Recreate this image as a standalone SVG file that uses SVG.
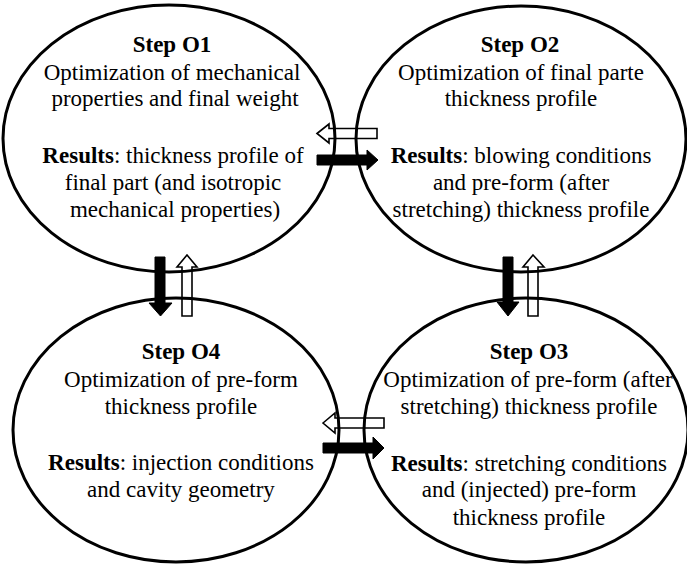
<svg xmlns="http://www.w3.org/2000/svg" width="687" height="564" viewBox="0 0 687 564">
<style>
.el{fill:none;stroke:#000;stroke-width:3}
text{font-family:"Liberation Serif","Times New Roman",serif;font-size:23px;fill:#000;text-anchor:middle}
.b{font-weight:bold}
.solid{fill:#000;stroke:#000;stroke-width:1}
.hollow{fill:none;stroke:#000;stroke-width:1.6;stroke-linejoin:miter}
</style>
<rect width="687" height="564" fill="#fff"/>
<g id="node-O1">
<ellipse class="el" cx="169" cy="138.5" rx="166" ry="133.5"/>
<text x="172" y="52" class="b">Step O1</text>
<text x="172" y="80">Optimization of mechanical</text>
<text x="175" y="106">properties and final weight</text>
<text x="173" y="163"><tspan class="b">Results</tspan>: thickness profile of</text>
<text x="173" y="190">final part (and isotropic</text>
<text x="175" y="217">mechanical properties)</text>
</g>
<g id="node-O2">
<ellipse class="el" cx="521" cy="139" rx="165" ry="133"/>
<text x="520" y="52" class="b">Step O2</text>
<text x="521" y="80">Optimization of final parte</text>
<text x="521" y="106">thickness profile</text>
<text x="521" y="163"><tspan class="b">Results</tspan>: blowing conditions</text>
<text x="521" y="190">and pre-form (after</text>
<text x="521" y="217">stretching) thickness profile</text>
</g>
<g id="node-O4">
<ellipse class="el" cx="176" cy="430" rx="163" ry="132"/>
<text x="181" y="359" class="b">Step O4</text>
<text x="181" y="387">Optimization of pre-form</text>
<text x="181" y="414">thickness profile</text>
<text x="181" y="470"><tspan class="b">Results</tspan>: injection conditions</text>
<text x="181" y="497">and cavity geometry</text>
</g>
<g id="node-O3">
<ellipse class="el" cx="526" cy="430" rx="162" ry="132"/>
<text x="529" y="359" class="b">Step O3</text>
<text x="528" y="387">Optimization of pre-form (after</text>
<text x="529" y="414">stretching) thickness profile</text>
<text x="529" y="471"><tspan class="b">Results</tspan>: stretching conditions</text>
<text x="529" y="497">and (injected) pre-form</text>
<text x="529" y="525">thickness profile</text>
</g>
<g id="connectors">
<path class="hollow" d="M317,133.5 L329,124 L329,128.5 L377,128.5 L377,138.5 L329,138.5 L329,143 Z"/>
<path class="solid" d="M317,155 L367,155 L367,150 L378,160 L367,170 L367,165 L317,165 Z"/>
<path class="solid" d="M155,257 L165,257 L165,303 L172,303 L160.5,316 L149,303 L155,303 Z"/>
<path class="hollow" d="M187,255 L197,267 L192,267 L192,316 L182,316 L182,267 L177,267 Z"/>
<path class="solid" d="M503,257 L513,257 L513,302 L519,302 L508,316 L497,302 L503,302 Z"/>
<path class="hollow" d="M533,255 L544,267 L538,267 L538,316 L528,316 L528,267 L523,267 Z"/>
<path class="hollow" d="M323,423 L335,413 L335,418 L384,418 L384,428 L335,428 L335,433 Z"/>
<path class="solid" d="M323,443 L373,443 L373,437 L384,448 L373,459 L373,453 L323,453 Z"/>
</g>
</svg>
